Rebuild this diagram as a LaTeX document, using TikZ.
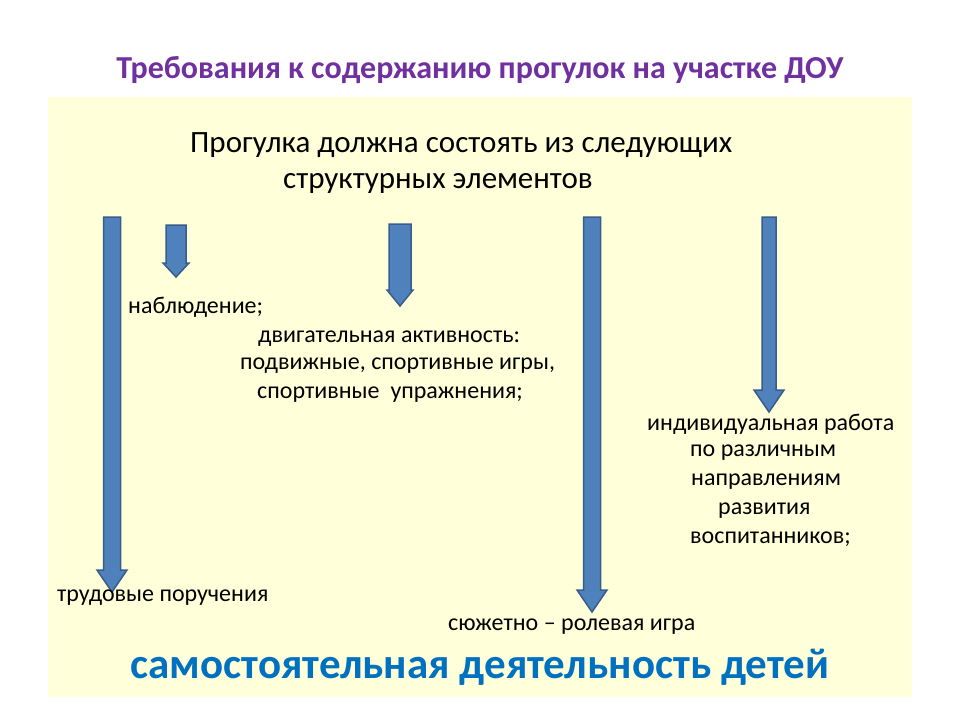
\documentclass[tikz,border=0pt]{standalone}
\usepackage{fontspec}
\setmainfont{Carlito}
\definecolor{bgy}{HTML}{FFFFD9}
\definecolor{ttl}{HTML}{7030A0}
\definecolor{afill}{HTML}{4F81BD}
\definecolor{aline}{HTML}{385D8A}
\definecolor{bblue}{HTML}{0070C0}
\newcommand{\blkarrow}[6]{% cx, top, bottom, half shaft, half head, head length
  \fill[afill,draw=aline,line width=1.5pt] (#1-#4,#2) -- (#1+#4,#2) -- (#1+#4,#3-#6) -- (#1+#5,#3-#6) -- (#1,#3) -- (#1-#5,#3-#6) -- (#1-#4,#3-#6) -- cycle;}
\begin{document}
\begin{tikzpicture}[x=1pt,y=-1pt,
  txt/.style={anchor=west,inner sep=0pt,font=\fontsize{24}{28}\selectfont},
  big/.style={anchor=west,inner sep=0pt,font=\fontsize{31}{36}\selectfont}]
\useasboundingbox (0,0) rectangle (960,720);
\fill[white] (0,0) rectangle (960,720);
\fill[bgy] (48,97) rectangle (912,697);
\node[inner sep=0pt,text=ttl,font=\bfseries\fontsize{32}{38}\selectfont] (title) at (480,70) {Требования к содержанию прогулок на участке ДОУ};
\node[big] (l1) at (190,145) {Прогулка должна состоять из следующих};
\node[big] (l2) at (283,183) {структурных элементов};
\blkarrow{112}{217}{592}{8.5}{15}{22}
\blkarrow{176}{225}{277}{10}{13}{14}
\blkarrow{400}{224}{306}{11}{13}{16}
\blkarrow{592}{217}{612}{8.5}{15}{22}
\blkarrow{769}{217}{412}{7}{15}{22}
\node[txt] (a) at (128,307) {наблюдение;};
\node[txt] (b) at (258,339) {двигательная активность:};
\node[txt] (c) at (240,366) {подвижные, спортивные игры,};
\node[txt] (d) at (257,395) {спортивные\ \ упражнения;};
\node[txt] (e) at (647,424) {индивидуальная работа};
\node[txt] (f) at (690,453) {по различным};
\node[txt] (g) at (691,482) {направлениям};
\node[txt] (h) at (718,511) {развития};
\node[txt] (i) at (690,539) {воспитанников;};
\node[txt] (j) at (57,598) {трудовые поручения};
\node[txt] (k) at (448,627) {сюжетно – ролевая игра};
\node[inner sep=0pt,text=bblue,font=\bfseries\fontsize{43}{50}\selectfont] (m) at (480,667) {самостоятельная деятельность детей};
\end{tikzpicture}
\end{document}
